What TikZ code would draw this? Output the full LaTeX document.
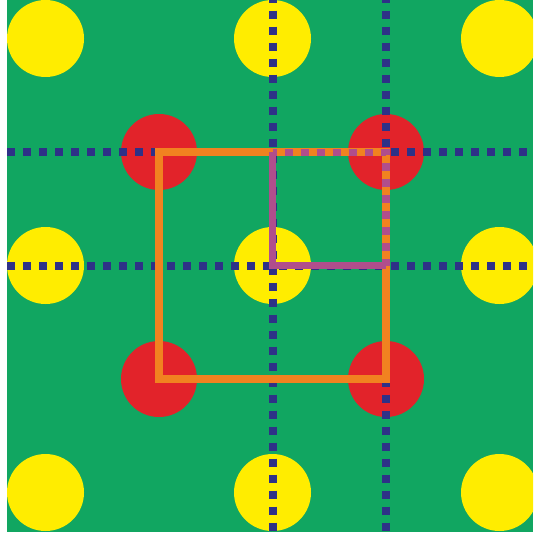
\documentclass[tikz,border=0pt]{standalone}
\definecolor{lattgreen}{RGB}{17,166,97}
\definecolor{siteyellow}{RGB}{255,237,0}
\definecolor{sitered}{RGB}{226,35,42}
\definecolor{boxorange}{RGB}{241,130,32}
\definecolor{boxmagenta}{RGB}{176,78,140}
\definecolor{lineblue}{RGB}{46,49,135}
\tikzset{
  gridline/.style={draw=lineblue, line width=8pt, dash pattern=on 8pt off 8pt},
  cellbox/.style={draw=boxorange, line width=8pt},
  subcell/.style={draw=boxmagenta, line width=7.5pt},
  subdash/.style={draw=boxmagenta, line width=7.5pt, dash pattern=on 8pt off 8pt}
}
\begin{document}
\begin{tikzpicture}[x=1pt,y=-1pt]
  \useasboundingbox (0,0) rectangle (533,534);
  % background
  \fill[lattgreen] (7,0) rectangle (533,532);
  \begin{scope}
    \clip (7,0) rectangle (533,532);
    % yellow sites
    \foreach \i in {0,1,2}
      \foreach \j in {0,1,2}
        \fill[siteyellow] ({45.5+\i*227},{38.5+\j*227}) circle (38.5pt);
    % red sites
    \foreach \i in {0,1}
      \foreach \j in {0,1}
        \fill[sitered] ({159+\i*227},{152+\j*227}) circle (38pt);
    % dotted grid
    \foreach \x in {272.5,386}
      \draw[gridline, dash phase=5.3pt] (\x,0) -- (\x,532);
    \foreach \y in {152.5,265.5}
      \draw[gridline] (7,\y) -- (533,\y);
  \end{scope}
  % unit cell
  \draw[cellbox] (159,152.5) rectangle (386,379);
  % smaller cell
  \draw[subcell] (272.5,152.5) -- (272.5,265.5) -- (386,265.5);
  \draw[subdash, dash phase=4pt] (272.5,152.5) -- (386,152.5) -- (386,265.5);
\end{tikzpicture}
\end{document}
